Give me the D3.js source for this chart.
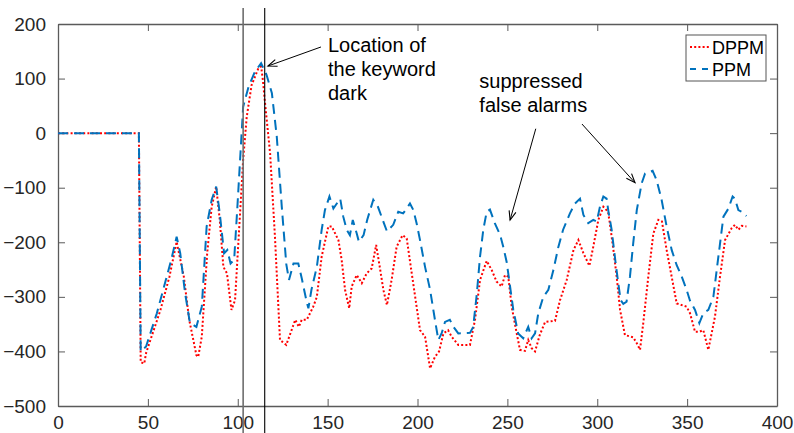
<!DOCTYPE html>
<html>
<head>
<meta charset="utf-8">
<script src="https://cdn.jsdelivr.net/npm/d3@7"></script>
<style>
  body { margin: 0; background: #fff; }
  text { font-family: "Liberation Sans", Arial, Helvetica, sans-serif; }
</style>
</head>
<body>
<svg id="chart" width="794" height="433"></svg>
<script>
/* data: [frame, score] pairs */
const xTicks = [0, 50, 100, 150, 200, 250, 300, 350, 400];
const yTicks = [-500, -400, -300, -200, -100, 0, 100, 200];
const seriesNames = ['DPPM', 'PPM'];
const keywordBounds = [103, 115];

const dppm = [
  [0,0],[45,0],[46,-420],[48,-422],[49,-403],[57,-324],[62,-263],[66,-199],[70,-263],
  [73,-342],[77,-407],[78,-410],[80,-373],[83,-220],[85.5,-135],[88,-98],[90,-159],
  [92,-245],[94,-257],[96.5,-324],[98.5,-306],[100,-220],[103,-49],[105,30],[107.7,88],
  [111.5,119],[113,122],[114,97],[115,61],[118,-37],[120.7,-190],[123.5,-379],[127,-388],
  [132,-342],[134,-355],[135.6,-342],[138.4,-342],[142,-318],[144,-300],[146.7,-226],
  [150.4,-171],[152.3,-171],[156,-196],[157.8,-232],[159.7,-287],[162,-321],[163.4,-281],
  [166.2,-260],[169,-275],[171.7,-257],[174.5,-248],[177,-205],[179,-245],[181,-287],
  [183,-315],[185.6,-269],[188.4,-208],[191.7,-187],[194,-193],[196.8,-257],[199.5,-318],
  [201.4,-361],[204.2,-373],[207,-431],[209.7,-410],[212,-400],[214.4,-367],[217,-361],
  [219,-373],[222.7,-388],[229.2,-388],[232,-342],[234.8,-269],[238.5,-234],[241.3,-251],
  [244,-272],[246.8,-281],[248.7,-260],[250.5,-263],[252.4,-318],[255.2,-367],[257,-397],
  [259.8,-399],[261.6,-379],[263.5,-394],[265.4,-400],[268,-370],[271,-346],[276.5,-344],
  [279.3,-306],[283,-269],[286.8,-214],[289.5,-196],[292.3,-220],[295.6,-243],[297.8,-208],
  [300.6,-159],[303.4,-135],[306,-144],[307,-165],[309,-214],[310.8,-263],[312.7,-324],
  [315.4,-370],[320,-374],[322,-385],[323.8,-397],[325.6,-348],[328.4,-263],[331.2,-184],
  [334,-159],[336,-162],[338.6,-214],[341.4,-263],[344.2,-312],[349.7,-318],[351.6,-330],
  [354.4,-364],[356.8,-364],[359,-361],[361.8,-397],[365.5,-336],[368.3,-263],[371.1,-196],
  [374.8,-174],[376.6,-168],[378.5,-177],[380.4,-170],[383,-171]
];

const ppm = [
  [0,0],[45,0],[46,-400],[49,-391],[55,-330],[59.5,-275],[63,-232],[66,-190],[68,-220],
  [70.7,-293],[73.4,-348],[76,-353],[77,-355],[80,-318],[82.7,-171],[85.5,-122],[88,-98],
  [90,-147],[92.4,-220],[94.2,-214],[96,-239],[98,-232],[99.8,-135],[101.3,-49],[103,48],
  [106,85],[109.6,113],[113,128],[116,107],[119,73],[121.7,-6],[124.5,-135],[127,-240],
  [128.5,-269],[131,-239],[133.7,-239],[135.6,-266],[138.4,-310],[139.3,-321],[141,-287],
  [144,-245],[146.7,-177],[148.5,-141],[151,-116],[153.2,-138],[157,-120],[158.7,-153],
  [160.6,-177],[162.4,-187],[164,-159],[166.2,-184],[167.4,-199],[170,-187],[172,-159],
  [175.4,-122],[178,-135],[181,-162],[183,-180],[186.5,-168],[189.3,-144],[192,-147],
  [194,-138],[195.8,-129],[197.7,-141],[199.5,-165],[201.4,-196],[204.2,-245],[207,-287],
  [209.7,-342],[211.6,-379],[213.4,-367],[215.3,-346],[218,-342],[220,-355],[222.7,-367],
  [229.2,-366],[231,-355],[233,-294],[234.8,-226],[236.6,-177],[238.5,-144],[240.3,-140],
  [243,-165],[246,-187],[247.7,-208],[249.6,-236],[251.5,-281],[253.3,-324],[256,-367],
  [258.8,-376],[261.6,-355],[263.5,-376],[265.4,-367],[267.2,-330],[270,-300],[272.8,-287],
  [275.6,-251],[278.4,-208],[281,-177],[284.8,-147],[287.6,-129],[290.4,-120],[292.3,-150],
  [295,-165],[297.8,-159],[299.7,-162],[301.5,-135],[303.4,-116],[305.2,-120],[306.1,-141],
  [308,-177],[310,-232],[311.7,-275],[313,-306],[314.5,-313],[316.3,-309],[318.2,-263],
  [320,-202],[322,-141],[324.7,-92],[326.6,-74],[329.3,-71],[330.8,-69],[333,-86],
  [335.8,-122],[338.6,-171],[341.4,-214],[344.2,-242],[347,-263],[349.7,-287],[351.6,-307],
  [354.4,-324],[356.8,-348],[359,-330],[361.8,-324],[364.6,-300],[367.4,-226],[370.2,-153],
  [373,-138],[375.3,-116],[376.6,-120],[378.5,-141],[380.4,-144],[383,-152]
];

/* annotations, in data coordinates */
const keywordNote = { lines: ['Location of', 'the keyword', 'dark'], x: 150.2, y: 148.7 };
const alarmNote = { lines: ['suppressed', 'false alarms'], x: 234.4, y: 82.7 };
const arrows = [
  { from: [146.3, 157.9], to: [116.8, 123] },
  { from: [265.8, 8.1], to: [251.5, -159.2] },
  { from: [291.5, 16.7], to: [321, -90.8] }
];

const margin = { left: 58, right: 17, top: 24, bottom: 27 };
const width = 794, height = 433;
const axisColor = '#5a5a5a', textColor = '#262626';
const lineColors = { DPPM: '#ff0000', PPM: '#0072bd' };

const svg = d3.select('#chart');
const x = d3.scaleLinear().domain([0, 400]).range([margin.left, width - margin.right]);
const y = d3.scaleLinear().domain([-500, 200]).range([height - margin.bottom, margin.top]);

/* axes box with inward ticks on all four sides */
function drawAxis(axis, transform) {
  let g = svg.append('g').attr('transform', transform).call(axis);
  g.select('.domain').attr('stroke', axisColor).attr('stroke-width', 1.3);
  g.selectAll('.tick line').attr('stroke', axisColor).attr('stroke-width', 1);
  g.selectAll('.tick text').attr('fill', textColor).style('font-size', '19px')
    .style('font-family', '"Liberation Sans", Arial, sans-serif');
  return g;
}
drawAxis(d3.axisBottom(x).tickValues(xTicks).tickSize(-7).tickPadding(10).tickSizeOuter(0),
  `translate(0,${y(-500)})`);
drawAxis(d3.axisTop(x).tickValues(xTicks).tickSize(-7).tickFormat('').tickSizeOuter(0),
  `translate(0,${y(200)})`);
drawAxis(d3.axisLeft(y).tickValues(yTicks).tickSize(-7).tickPadding(12).tickSizeOuter(0),
  `translate(${x(0)},0)`);
drawAxis(d3.axisRight(y).tickValues(yTicks).tickSize(-7).tickFormat('').tickSizeOuter(0),
  `translate(${x(400)},0)`);

/* the two series; DPPM first so PPM lies on top */
const line = d3.line().x(d => x(d[0])).y(d => y(d[1]));
svg.append('path').datum(dppm).attr('d', line)
  .attr('fill', 'none').attr('stroke', lineColors.DPPM)
  .attr('stroke-width', 2).attr('stroke-dasharray', '2,2.2');
svg.append('path').datum(ppm).attr('d', line)
  .attr('fill', 'none').attr('stroke', lineColors.PPM)
  .attr('stroke-width', 2).attr('stroke-dasharray', '10,6');

/* keyword boundary markers run past the axes */
svg.selectAll('.bound').data(keywordBounds).enter().append('line')
  .attr('class', 'bound')
  .attr('x1', d => x(d)).attr('x2', d => x(d))
  .attr('y1', 8).attr('y2', height)
  .attr('stroke', (d, i) => i == 0 ? '#6e6e6e' : '#000')
  .attr('stroke-width', (d, i) => i == 0 ? 1.6 : 1.1);

/* arrows */
svg.append('defs').append('marker')
  .attr('id', 'head').attr('viewBox', '-10 -5 12 10')
  .attr('refX', 0).attr('refY', 0)
  .attr('markerWidth', 12).attr('markerHeight', 10)
  .attr('markerUnits', 'userSpaceOnUse').attr('orient', 'auto')
  .append('path').attr('d', 'M-9,-3.5 L0,0 L-9,3.5')
  .attr('fill', 'none').attr('stroke', '#000').attr('stroke-width', 1.1);

svg.selectAll('.arrow').data(arrows).enter().append('line')
  .attr('class', 'arrow')
  .attr('x1', d => x(d.from[0])).attr('y1', d => y(d.from[1]))
  .attr('x2', d => x(d.to[0])).attr('y2', d => y(d.to[1]))
  .attr('stroke', '#000').attr('stroke-width', 1)
  .attr('marker-end', 'url(#head)');

function drawNote(note) {
  let t = svg.append('text').attr('fill', '#000').style('font-size', '20px');
  note.lines.forEach((s, i) => {
    t.append('tspan').attr('x', x(note.x)).attr('y', y(note.y) + i * 24).text(s);
  });
}
drawNote(keywordNote);
drawNote(alarmNote);

/* legend */
const legend = svg.append('g').attr('transform', 'translate(686,35)');
legend.append('rect').attr('width', 80).attr('height', 46)
  .attr('fill', '#fff').attr('stroke', '#555').attr('stroke-width', 1);
seriesNames.forEach((name, i) => {
  let ly = 12 + i * 22;
  legend.append('line').attr('x1', 4).attr('x2', 24).attr('y1', ly).attr('y2', ly)
    .attr('stroke', lineColors[name]).attr('stroke-width', 2)
    .attr('stroke-dasharray', name == 'DPPM' ? '2,2.2' : '6,6');
  legend.append('text').attr('x', 26).attr('y', ly + 6.5)
    .attr('fill', '#000').style('font-size', '18px').text(name);
});
</script>
</body>
</html>
